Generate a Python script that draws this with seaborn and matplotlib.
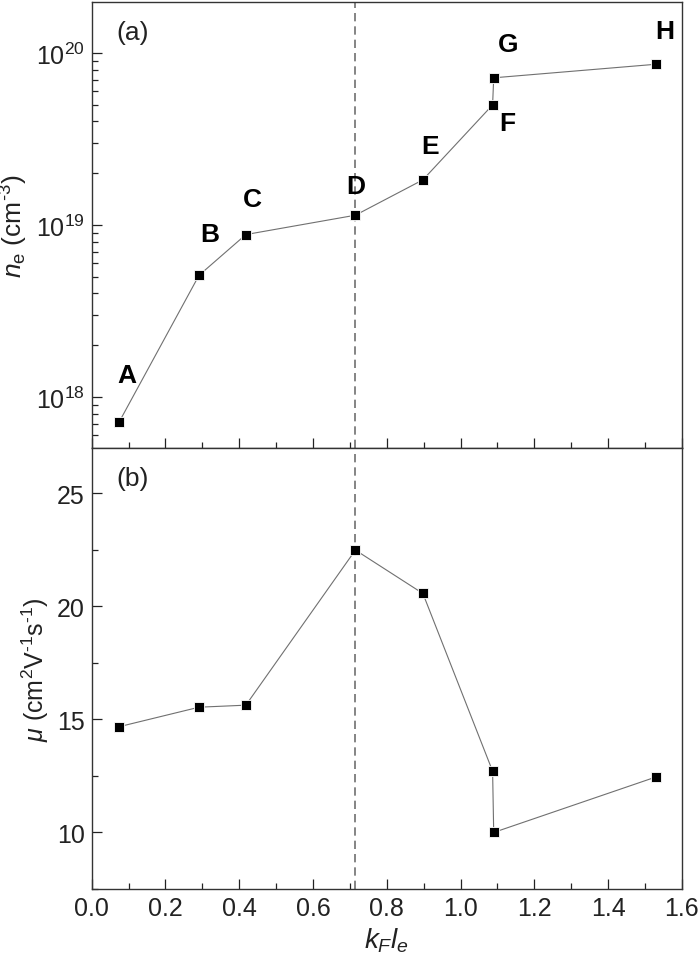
import numpy as np
import pandas as pd
import matplotlib
matplotlib.use("Agg")
import matplotlib.pyplot as plt
import seaborn as sns
from matplotlib.ticker import MultipleLocator, LogLocator, NullFormatter

# ── Data ───────────────────────────────────────────────────
samples = ["A", "B", "C", "D", "E", "F", "G", "H"]
kfle    = [0.075, 0.291, 0.418, 0.715, 0.898, 1.087, 1.090, 1.531]
n_e     = [7.2e17, 5.1e18, 8.8e18, 1.14e19, 1.83e19, 4.99e19, 7.17e19, 8.6e19]
mu      = [14.68, 15.54, 15.63, 22.49, 20.57, 12.71, 10.0, 12.46]
kfle_crit = 0.715

# label offsets (pixels) for the sample letters in panel (a)
label_dx = [7, 11, 7, 0, 7, 15, 14, 8]
label_dy = [47, 41, 36, 29, 34, -18, 34, 33]

df = pd.DataFrame({"sample": samples, "kfle": kfle, "ne": n_e, "mu": mu})

sns.set_style("ticks")
plt.rcParams["font.family"] = ["Liberation Sans", "DejaVu Sans"]
plt.rcParams["mathtext.fontset"] = "custom"
plt.rcParams["mathtext.rm"] = "Liberation Sans"
plt.rcParams["mathtext.it"] = "Liberation Sans:italic"
plt.rcParams["text.color"] = "#222222"
plt.rcParams["axes.labelcolor"] = "#222222"
plt.rcParams["xtick.color"] = "#222222"
plt.rcParams["ytick.color"] = "#222222"

fig = plt.figure(figsize=(7, 9.7), dpi=100)
ax1 = fig.add_axes([0.131, 0.537, 0.843, 0.460])
ax2 = fig.add_axes([0.131, 0.0825, 0.843, 0.4545], sharex=ax1)

line_kw = dict(color="#707070", lw=0.8, marker="s", markersize=7,
               markerfacecolor="black", markeredgecolor="white",
               markeredgewidth=0.6, sort=False, estimator=None)

# ── Panel (a): carrier density ─────────────────────────────
sns.lineplot(data=df, x="kfle", y="ne", ax=ax1, **line_kw)
ax1.set_yscale("log")
ax1.set_ylim(5.05e17, 1.98e20)
ax1.yaxis.set_major_locator(LogLocator(base=10, numticks=10))
ax1.yaxis.set_minor_locator(LogLocator(base=10, subs=np.arange(2, 10), numticks=20))
ax1.yaxis.set_minor_formatter(NullFormatter())
for s, x, y, dx, dy in zip(samples, kfle, n_e, label_dx, label_dy):
    ax1.annotate(s, (x, y), xytext=(dx, dy), textcoords="offset pixels",
                 ha="center", va="center", fontsize=19, fontweight="bold",
                 color="black")
ax1.text(0.07, 0.933, "(a)", transform=ax1.transAxes, fontsize=19,
         ha="center", va="center")
ax1.set_ylabel(r"$n_\mathrm{e}$ (cm$^{\text{-}3}$)", fontsize=19)
ax1.set_xlabel("")
ax1.tick_params(labelbottom=False)

# ── Panel (b): mobility ────────────────────────────────────
sns.lineplot(data=df, x="kfle", y="mu", ax=ax2, **line_kw)
ax2.set_ylim(7.5, 27)
ax2.yaxis.set_major_locator(MultipleLocator(5))
ax2.yaxis.set_minor_locator(MultipleLocator(2.5))
ax2.text(0.07, 0.932, "(b)", transform=ax2.transAxes, fontsize=19,
         ha="center", va="center")
ax2.set_ylabel(r"$\mu$ (cm$^2$V$^{\text{-}1}$s$^{\text{-}1}$)", fontsize=18)
ax2.set_xlabel(r"$k_Fl_e$", fontsize=20)

ax2.set_xlim(0, 1.6)
ax2.xaxis.set_major_locator(MultipleLocator(0.2))
ax2.xaxis.set_minor_locator(MultipleLocator(0.1))
ax2.xaxis.set_major_formatter(matplotlib.ticker.FormatStrFormatter("%.1f"))

for ax in (ax1, ax2):
    ax.axvline(kfle_crit, color="#707070", lw=1.2, ls=(0, (5, 3)), zorder=0)
    ax.tick_params(which="both", direction="in", top=False, right=False,
                   labelsize=18, width=0.9, pad=5)
    ax.tick_params(which="major", length=7)
    ax.tick_params(which="minor", length=4)
    for sp in ax.spines.values():
        sp.set_visible(True)
        sp.set_color("#333333")
        sp.set_linewidth(1.0)

fig.savefig("out.png", dpi=100)
